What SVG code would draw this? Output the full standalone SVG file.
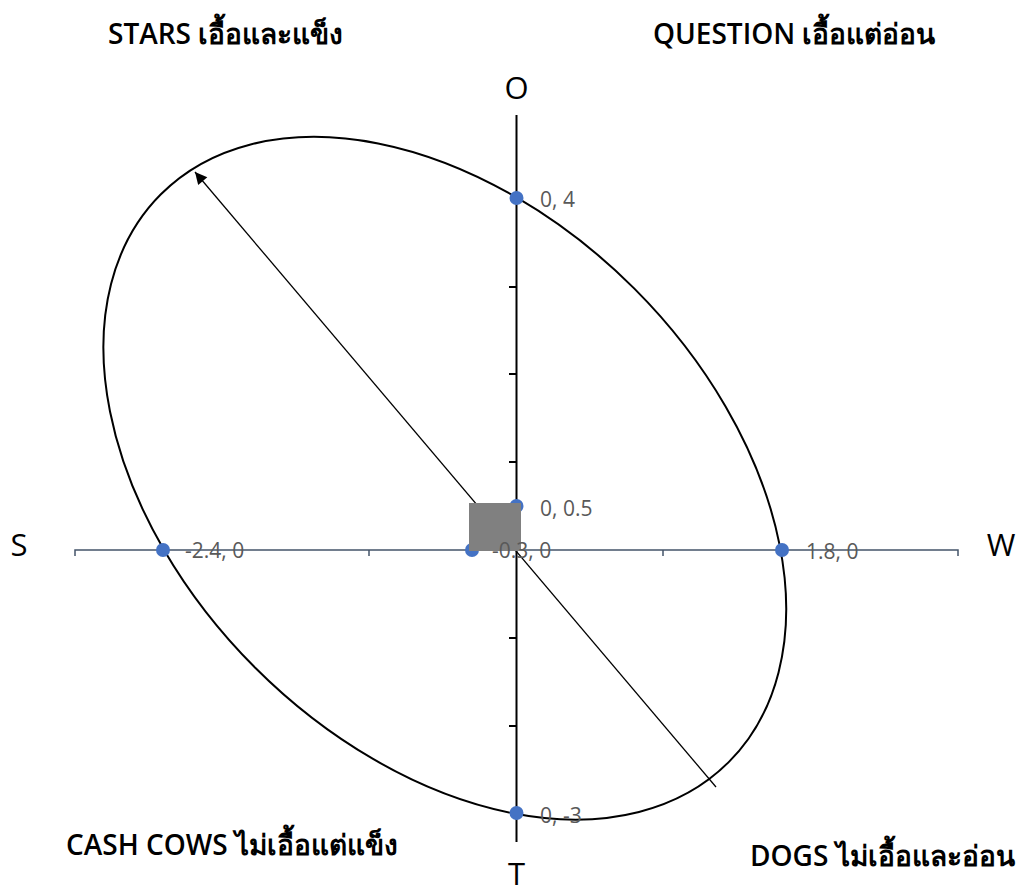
<svg xmlns="http://www.w3.org/2000/svg" width="1024" height="894" viewBox="0 0 1024 894">
<style>
.q{font-family:"Open Sans","Noto Sans",sans-serif;font-weight:600;font-size:28px;fill:#000}
.ax{font-family:"Open Sans","Noto Sans",sans-serif;font-size:31px;fill:#000}
.pl{font-family:"Open Sans","Noto Sans",sans-serif;font-size:21px;fill:#595959}
.pt{fill:#4472C4}
</style>
<defs>
<marker id="ah" viewBox="0 0 10 10" refX="10" refY="5" markerWidth="16" markerHeight="12" markerUnits="userSpaceOnUse" orient="auto">
<path d="M0,0 L10,5 L0,10 z" fill="#000"/>
</marker>
</defs>
<rect width="1024" height="894" fill="#fff"/>
<g id="axes">
<path d="M75,556 V550 H958 V556 M369,550 V556 M663,550 V556" fill="none" stroke="#44546A" stroke-width="1.5"/>
<path d="M516.5,115 V842" stroke="#000" stroke-width="2"/>
<path d="M509,287 H516 M509,374 H516 M509,462 H516 M509,638 H516 M509,726 H516" stroke="#000" stroke-width="2"/>
</g>
<g id="connectors">
<ellipse cx="444.8" cy="478.2" rx="401.5" ry="268.1" transform="rotate(45 444.8 478.2)" fill="none" stroke="#000" stroke-width="2"/>
<line x1="716" y1="787" x2="195" y2="172" stroke="#000" stroke-width="1.3" marker-end="url(#ah)"/>
</g>
<g id="points">
<circle class="pt" cx="516.5" cy="198" r="7"/>
<circle class="pt" cx="516.5" cy="506" r="7"/>
<circle class="pt" cx="516.5" cy="813" r="7"/>
<circle class="pt" cx="163" cy="550" r="7"/>
<circle class="pt" cx="472" cy="550" r="7"/>
<circle class="pt" cx="782" cy="550" r="7"/>
</g>
<g id="center-box"><rect x="469" y="503" width="52" height="48" fill="#808080"/></g>
<g id="point-labels">
<text class="pl" x="540" y="207">0, 4</text>
<text class="pl" x="540" y="516">0, 0.5</text>
<text class="pl" x="540" y="823">0, -3</text>
<text class="pl" x="185" y="558">-2.4, 0</text>
<text class="pl" x="492" y="558">-0.3, 0</text>
<text class="pl" x="806" y="559">1.8, 0</text>
</g>
<g id="axis-labels">
<text class="ax" x="516.5" y="99" text-anchor="middle">O</text>
<text class="ax" x="19" y="556" text-anchor="middle">S</text>
<text class="ax" x="1001" y="556" text-anchor="middle">W</text>
<text class="ax" x="516.5" y="885" text-anchor="middle">T</text>
</g>
<g id="quadrant-labels">
<text class="q" x="108" y="44">STARS เอื้อและแข็ง</text>
<text class="q" x="653" y="44">QUESTION เอื้อแต่อ่อน</text>
<text class="q" x="66" y="855">CASH COWS ไม่เอื้อแต่แข็ง</text>
<text class="q" x="750" y="866">DOGS ไม่เอื้อและอ่อน</text>
</g>
</svg>
